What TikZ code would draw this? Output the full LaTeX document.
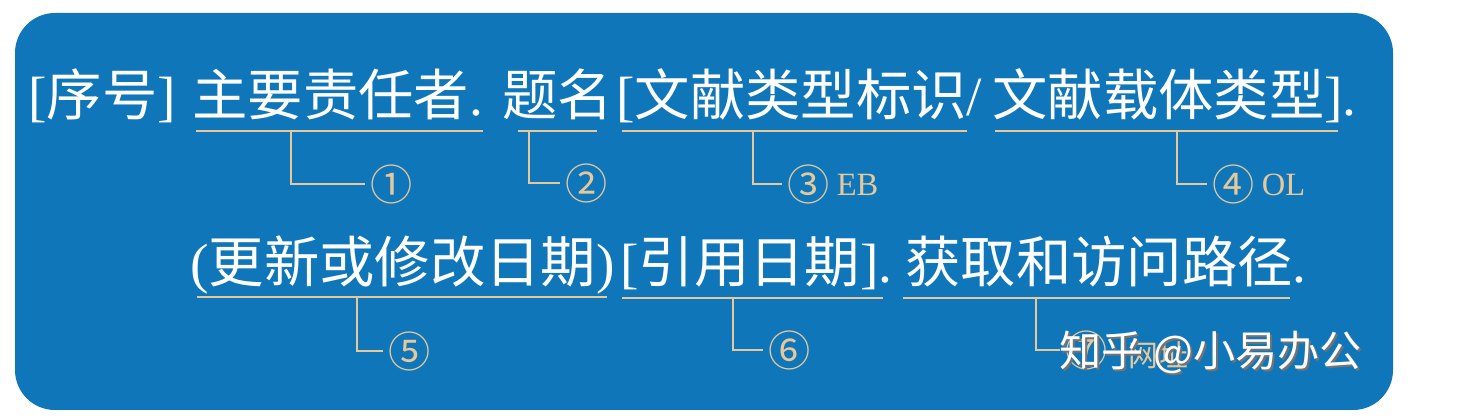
\documentclass[tikz,border=0pt]{standalone}
\usepackage{fontspec}
\setmainfont{Liberation Serif}
\newfontfamily\zh{Noto Sans CJK SC}
\usepackage{xcolor}
\definecolor{refblue}{HTML}{0F76BA}
\definecolor{reftan}{HTML}{E6C89A}
\usetikzlibrary{positioning}
\tikzset{
  reftext/.style={anchor=base west,inner sep=0pt,text=white,font=\fontsize{31.5}{32}\selectfont},
  reftag/.style={anchor=west,inner sep=3pt,text=reftan,font=\fontsize{24}{25}\selectfont\zh},
  refline/.style={draw=reftan,line width=1.3pt},
  refmark/.style={anchor=west,inner sep=0pt,font=\fontsize{24}{25}\selectfont\zh},
}
\begin{document}
\begin{tikzpicture}[x=0.02cm,y=-0.02cm]
\useasboundingbox (0,0) rectangle (1484,418);
\fill[white](0,0)rectangle(1484,418);
\fill[refblue,rounded corners=0.8cm](15,13)rectangle(1393,410);
% first line
\node[reftext](n0) at (28,116){[{\zh 序号}]};
\node[reftext](s1) at (192,116){{\zh 主要责任者}.};
\node[reftext](s2) at (502,116){\zh 题名};
\node[reftext](s3) at (616,116){[{\zh 文献类型标识}/};
\node[reftext](s4) at (992,116){{\zh 文献载体类型}].};
% second line
\node[reftext](s5) at (190,283){({\zh 更新或修改日期})};
\node[reftext](s6) at (620,283){[{\zh 引用日期}].};
\node[reftext](s7) at (905,283){{\zh 获取和访问路径}.};
% numbered tags
\node[reftag](l1) at (365,184){①};
\node[reftag](l2) at (560,183){②};
\node[reftag](l3) at (782,184){③\hspace{4pt}\raisebox{2.5pt}{\rmfamily\fontsize{18.5}{19}\selectfont EB}};
\node[reftag](l4) at (1207,184){④\hspace{4pt}\raisebox{2.5pt}{\rmfamily\fontsize{18.5}{19}\selectfont OL}};
\node[reftag](l5) at (383,351){⑤};
\node[reftag](l6) at (763,350){⑥};
\node[reftag](l7) at (1060,350){⑦\hspace{12pt}{\fontsize{17}{18}\selectfont 网址}};
% underlines
\coordinate (u1a) at (196,131); \coordinate (u1b) at (483,131); \coordinate (k1) at (291,131);
\coordinate (u2a) at (518,131); \coordinate (u2b) at (597,131); \coordinate (k2) at (529,131);
\coordinate (u3a) at (622,131); \coordinate (u3b) at (967,131); \coordinate (k3) at (753,131);
\coordinate (u4a) at (995,131); \coordinate (u4b) at (1338,131); \coordinate (k4) at (1177,131);
\coordinate (u5a) at (197,297); \coordinate (u5b) at (607,297); \coordinate (k5) at (357,297);
\coordinate (u6a) at (622,298); \coordinate (u6b) at (883,298); \coordinate (k6) at (733,298);
\coordinate (u7a) at (903,298); \coordinate (u7b) at (1290,298); \coordinate (k7) at (1036,298);
\draw[refline](u1a)--(u1b); \draw[refline](k1)|-(l1.west);
\draw[refline](u2a)--(u2b); \draw[refline](k2)|-(l2.west);
\draw[refline](u3a)--(u3b); \draw[refline](k3)|-(l3.west);
\draw[refline](u4a)--(u4b); \draw[refline](k4)|-(l4.west);
\draw[refline](u5a)--(u5b); \draw[refline](k5)|-(l5.west);
\draw[refline](u6a)--(u6b); \draw[refline](k6)|-(l6.west);
\draw[refline](u7a)--(u7b); \draw[refline](k7)|-(l7.west);
% watermark
\node[refmark,text=black!55](wm0) at (1061,354){知乎 @小易办公};
\node[refmark,text=white](wm) at (1059,352){知乎 @小易办公};
\end{tikzpicture}
\end{document}
